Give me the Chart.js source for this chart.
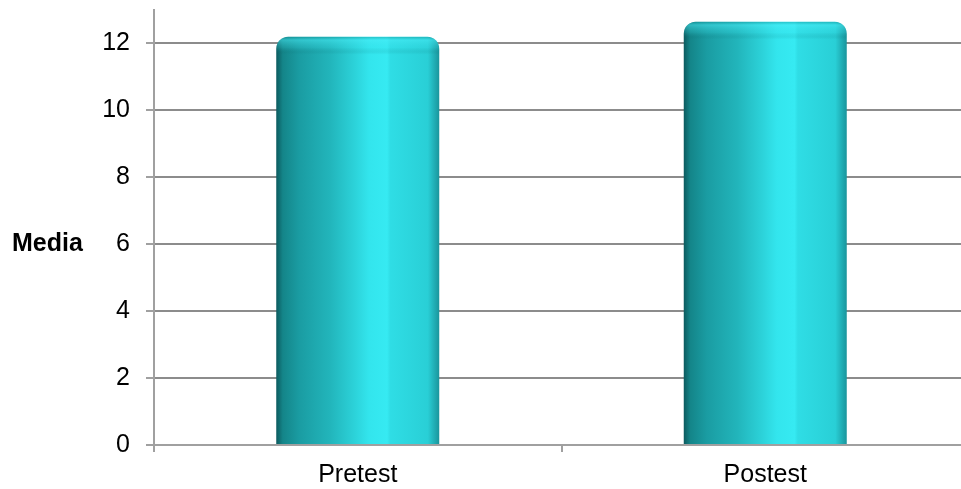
<!DOCTYPE html>
<html>
<head>
<meta charset="utf-8">
<script src="https://cdn.jsdelivr.net/npm/chart.js@4/dist/chart.umd.min.js"></script>
<style>
  html, body { margin: 0; padding: 0; background: #fff; overflow: hidden; }
  #wrap { position: absolute; left: 0; top: 0; width: 969px; height: 489px; }
</style>
</head>
<body>
<div id="wrap"><canvas id="c"></canvas></div>
<script>
// Mean scores before and after
const categories = ['Pretest', 'Postest'];
const means = [12.2, 12.65];
const yTicks = [0, 2, 4, 6, 8, 10, 12];
const yAxisTitle = 'Media';

const FONT = '"Liberation Sans", Arial, sans-serif';
const BAR_PCT = 0.4;
const CORNER = 12;

// Cylinder-like horizontal shading for each bar
function barGradient(context) {
  const chart = context.chart;
  if (!chart.chartArea) return '#2ccfd6';
  const xs = chart.scales.x;
  const bw = (xs.width / categories.length) * BAR_PCT;
  const cx = xs.getPixelForValue(context.dataIndex);
  const g = chart.ctx.createLinearGradient(cx - bw / 2, 0, cx + bw / 2, 0);
  g.addColorStop(0.00, '#0c5a5e');
  g.addColorStop(0.04, '#148589');
  g.addColorStop(0.14, '#1a9ca2');
  g.addColorStop(0.33, '#22b5bb');
  g.addColorStop(0.48, '#2cd2d9');
  g.addColorStop(0.57, '#33e5ed');
  g.addColorStop(0.68, '#36eaf2');
  g.addColorStop(0.70, '#2fdde5');
  g.addColorStop(0.93, '#29cfd6');
  g.addColorStop(1.00, '#1a959c');
  return g;
}

// Lit rim on the rounded top of each bar
const barCap = {
  id: 'barCap',
  afterDatasetsDraw(chart) {
    const ctx = chart.ctx;
    chart.getDatasetMeta(0).data.forEach(el => {
      const left = el.x - el.width / 2, w = el.width, top = el.y;
      const h = 18;
      ctx.save();
      ctx.beginPath();
      ctx.roundRect(left, top, w, h + CORNER, [CORNER, CORNER, 0, 0]);
      ctx.clip();
      const g = ctx.createLinearGradient(0, top, 0, top + h);
      g.addColorStop(0, 'rgba(20,150,155,0.45)');
      g.addColorStop(0.18, 'rgba(75,238,248,0.5)');
      g.addColorStop(0.6, 'rgba(60,225,235,0.2)');
      g.addColorStop(0.85, 'rgba(10,110,115,0.1)');
      g.addColorStop(1, 'rgba(10,110,115,0)');
      ctx.fillStyle = g;
      ctx.fillRect(left, top, w, h);
      ctx.restore();
    });
  }
};

// Horizontal axis caption on the left, aligned with the middle of the value axis
const sideTitle = {
  id: 'sideTitle',
  afterDraw(chart) {
    const ys = chart.scales.y;
    const ctx = chart.ctx;
    ctx.save();
    ctx.font = 'bold 25px ' + FONT;
    ctx.fillStyle = '#000';
    ctx.textAlign = 'left';
    ctx.textBaseline = 'middle';
    ctx.fillText(yAxisTitle, 12, ys.getPixelForValue(6));
    ctx.restore();
  }
};

new Chart(document.getElementById('c'), {
  type: 'bar',
  data: {
    labels: categories,
    datasets: [{
      data: means,
      backgroundColor: barGradient,
      borderWidth: 0,
      borderRadius: { topLeft: CORNER, topRight: CORNER, bottomLeft: 0, bottomRight: 0 },
      borderSkipped: false,
      barPercentage: BAR_PCT,
      categoryPercentage: 1.0
    }]
  },
  plugins: [barCap, sideTitle],
  options: {
    responsive: true,
    maintainAspectRatio: false,
    animation: false,
    layout: { padding: { top: 10, right: 0, left: 0, bottom: 0 } },
    plugins: { legend: { display: false }, tooltip: { enabled: false } },
    scales: {
      x: {
        offset: true,
        grid: {
          display: true,
          offset: true,
          drawOnChartArea: false,
          drawTicks: true,
          tickLength: 7,
          color: '#a0a0a0',
          lineWidth: 2
        },
        border: { display: true, color: '#a0a0a0', width: 2 },
        ticks: { color: '#000', font: { family: FONT, size: 25 }, padding: 8 },
        afterFit(scale) { scale.height = 44; }
      },
      y: {
        min: 0,
        max: 13,
        afterBuildTicks(scale) { scale.ticks = yTicks.map(v => ({ value: v })); },
        grid: {
          color: '#8c8c8c',
          lineWidth: 2,
          drawTicks: true,
          tickLength: 8,
          tickColor: '#a0a0a0'
        },
        border: { display: true, color: '#a0a0a0', width: 2 },
        ticks: { color: '#000', font: { family: FONT, size: 25 }, padding: 16 },
        afterFit(scale) {
          scale.width = 154;
          scale.paddingTop = 0;
          scale.paddingBottom = 0;
        }
      }
    }
  }
});
</script>
</body>
</html>
